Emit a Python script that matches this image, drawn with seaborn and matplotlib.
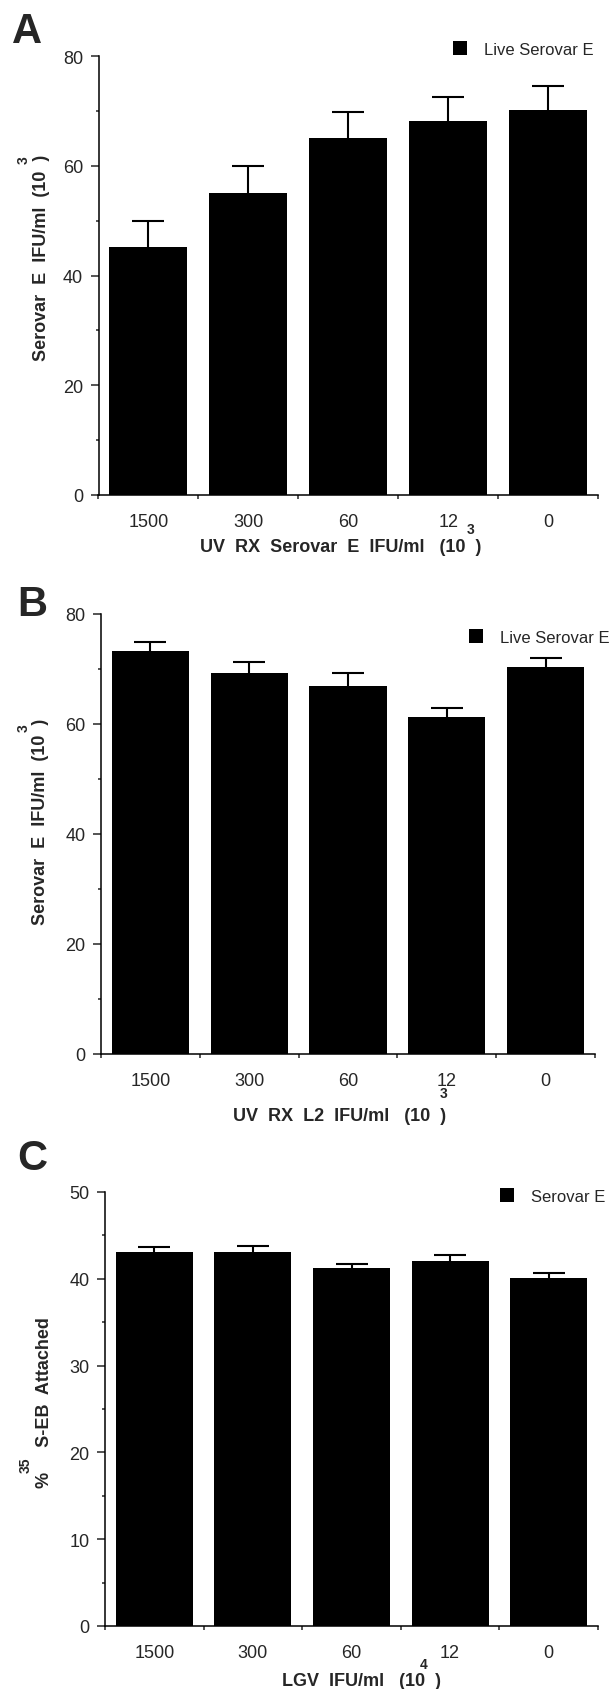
import numpy as np
import matplotlib
matplotlib.use("Agg")
import matplotlib.pyplot as plt
import seaborn as sns
from matplotlib.patches import Patch
from matplotlib.ticker import FixedLocator, MultipleLocator

# Dose categories shared by all three panels
doses = ["1500", "300", "60", "12", "0"]

# A: live serovar E infectivity after UV-inactivated serovar E
a_means = [45.2, 55.1, 65.1, 68.2, 70.2]
a_err = [4.7, 4.8, 4.7, 4.4, 4.3]

# B: live serovar E infectivity after UV-inactivated L2
b_means = [73.2, 69.3, 67.0, 61.2, 70.3]
b_err = [1.8, 1.9, 2.2, 1.8, 1.7]

# C: 35S-labelled serovar E EB attachment in presence of LGV
c_means = [43.1, 43.1, 41.2, 42.1, 40.1]
c_err = [0.6, 0.7, 0.5, 0.6, 0.6]

W, H, DPI = 613, 1690, 100

sns.set_style("ticks")
plt.rcParams["font.family"] = ["Liberation Sans", "DejaVu Sans"]

fig = plt.figure(figsize=(W / DPI, H / DPI), dpi=DPI)


def fx(px):
    return px / W


def fy(py):
    return 1 - py / H


panels = [
    dict(letter="A", letter_xy=(12, 43), means=a_means, err=a_err,
         box=(98.5, 598, 57, 496), ymax=80, major=20, minor=10,
         ylabel="Serovar  E  IFU/ml  (10  )", ylab_xy=(42, 258),
         ysup="3", ysup_xy=(24, 160),
         xlabel="UV  RX  Serovar  E  IFU/ml   (10  )", xlab_xy=(341, 548),
         xsup="3", xsup_xy=(471, 530),
         legend="Live Serovar E", leg_xy=(453, 50)),
    dict(letter="B", letter_xy=(17, 616), means=b_means, err=b_err,
         box=(101, 595, 615, 1055), ymax=80, major=20, minor=10,
         ylabel="Serovar  E  IFU/ml  (10  )", ylab_xy=(41, 822),
         ysup="3", ysup_xy=(24, 728),
         xlabel="UV  RX  L2  IFU/ml   (10  )", xlab_xy=(340, 1117),
         xsup="3", xsup_xy=(444, 1094),
         legend="Live Serovar E", leg_xy=(469, 638)),
    dict(letter="C", letter_xy=(17, 1170), means=c_means, err=c_err,
         box=(105, 598, 1193, 1627), ymax=50, major=10, minor=5,
         ylabel="%     S-EB  Attached", ylab_xy=(45, 1403),
         ysup="35", ysup_xy=(26, 1465),
         xlabel="LGV  IFU/ml   (10  )", xlab_xy=(361, 1682),
         xsup="4", xsup_xy=(424, 1665),
         legend="Serovar E", leg_xy=(500, 1197)),
]

for p in panels:
    left, right, top, bottom = p["box"]
    ax = fig.add_axes([fx(left), fy(bottom), (right - left) / W, (bottom - top) / H])

    sns.barplot(x=doses, y=p["means"], order=doses, color="black",
                saturation=1, width=0.78, errorbar=None, linewidth=0, ax=ax)

    # one-sided (upper) error bars
    means = np.asarray(p["means"])
    _, caps, _ = ax.errorbar(np.arange(len(doses)), means,
                             yerr=[np.zeros(len(doses)), p["err"]],
                             fmt="none", ecolor="black", elinewidth=1.5,
                             capsize=11.5, capthick=1.5, zorder=1)
    for cap in caps:
        if np.allclose(cap.get_ydata(), means):
            cap.set_visible(False)

    ax.set_xlim(-0.5, len(doses) - 0.5)
    ax.set_ylim(0, p["ymax"])
    ax.set_yticks(np.arange(0, p["ymax"] + 1, p["major"]))
    ax.yaxis.set_minor_locator(MultipleLocator(p["minor"]))
    ax.set_xticks(np.arange(len(doses)))
    ax.set_xticklabels(doses)
    ax.xaxis.set_minor_locator(FixedLocator(np.arange(-0.5, len(doses), 1.0)))

    ax.tick_params(axis="x", which="major", length=0, pad=13, labelsize=13)
    ax.tick_params(axis="x", which="minor", length=3, width=1.1, direction="out")
    ax.tick_params(axis="y", which="major", length=6, width=1.1, pad=5,
                   labelsize=13, direction="out")
    ax.tick_params(axis="y", which="minor", length=2.5, width=1.1, direction="out")

    sns.despine(ax=ax)
    for side in ("left", "bottom"):
        ax.spines[side].set_linewidth(1.1)
        ax.spines[side].set_color("black")

    w, h = right - left, bottom - top
    ax.set_ylabel(p["ylabel"], fontsize=13, fontweight="bold",
                  ha="center", va="center")
    ax.yaxis.set_label_coords((p["ylab_xy"][0] - left) / w,
                              (bottom - p["ylab_xy"][1]) / h)
    ax.set_xlabel(p["xlabel"], fontsize=13, fontweight="bold",
                  ha="center", va="center")
    ax.xaxis.set_label_coords((p["xlab_xy"][0] - left) / w,
                              (bottom - p["xlab_xy"][1]) / h)

    fig.text(fx(p["ysup_xy"][0]), fy(p["ysup_xy"][1]), p["ysup"],
             rotation=90, fontsize=10, fontweight="bold",
             ha="center", va="center")
    fig.text(fx(p["xsup_xy"][0]), fy(p["xsup_xy"][1]), p["xsup"],
             fontsize=10, fontweight="bold", ha="center", va="center")

    ax.legend(handles=[Patch(facecolor="black", edgecolor="none")],
              labels=[p["legend"]], loc="center left",
              bbox_to_anchor=(fx(p["leg_xy"][0]), fy(p["leg_xy"][1])),
              bbox_transform=fig.transFigure, frameon=False, fontsize=12,
              borderpad=0, borderaxespad=0, handlelength=0.84,
              handleheight=0.84, handletextpad=1.0)

    fig.text(fx(p["letter_xy"][0]), fy(p["letter_xy"][1]), p["letter"],
             fontsize=30, fontweight="bold", ha="left", va="baseline")

fig.savefig("out.png", dpi=DPI, facecolor="white")
